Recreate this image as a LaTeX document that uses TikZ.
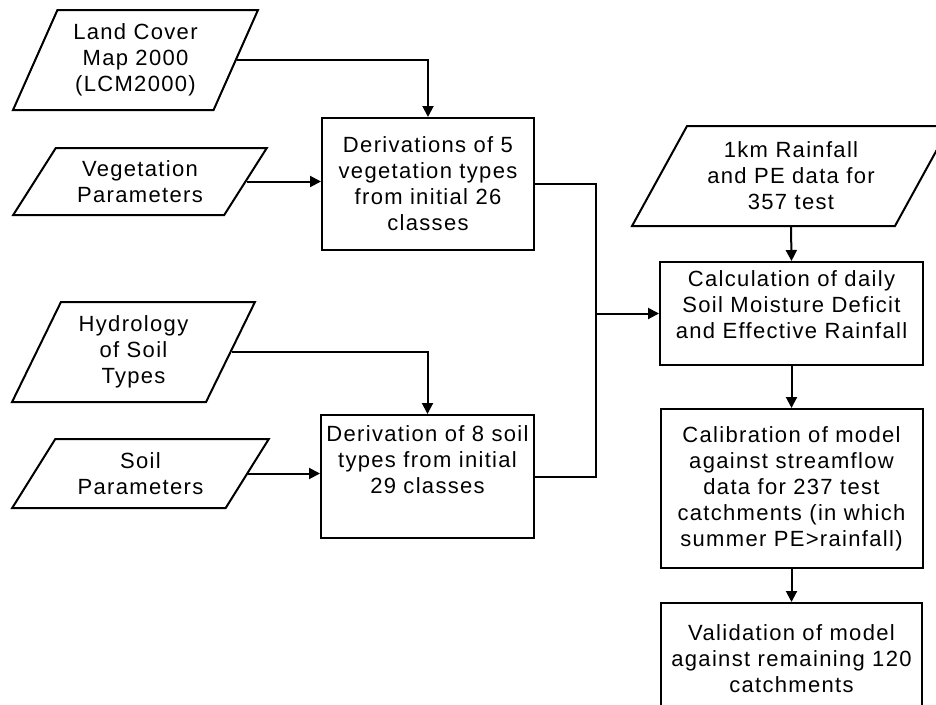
\documentclass[tikz,border=0pt]{standalone}
\usepackage{fontspec}
\setmainfont{Liberation Sans}[LetterSpace=6]
\usetikzlibrary{shapes.geometric,arrows.meta}

\tikzset{
  procbox/.style={draw,line width=2pt,align=center,inner sep=0pt},
  inputbox/.style={draw,line width=2pt,align=center,inner sep=0pt,
    trapezium,trapezium stretches=true},
  flow/.style={line width=2pt,-{Triangle[length=11pt,width=11pt]}}
}

\begin{document}
\begin{tikzpicture}[x=1pt,y=-1pt,font=\fontsize{22}{26}\selectfont]

\useasboundingbox[fill=white] (0,0) rectangle (936,704);

% inputs on the left
\node[inputbox,trapezium left angle=64,trapezium right angle=116,
  minimum width=245,minimum height=100] (lcm) at (135.5,60)
  {Land Cover\\Map 2000\\(LCM2000)};
\node[inputbox,trapezium left angle=53,trapezium right angle=127,
  minimum width=254,minimum height=67] (vegpar) at (140,181.5)
  {Vegetation\\Parameters};
\node[inputbox,trapezium left angle=63,trapezium right angle=117,
  minimum width=243,minimum height=100] (hydro) at (133.5,352)
  {Hydrology\\of Soil\\Types};
\node[inputbox,trapezium left angle=53,trapezium right angle=127,
  minimum width=257,minimum height=69] (soilpar) at (140.5,473.5)
  {Soil\\Parameters};

% derivation boxes
\node[procbox,minimum width=212,minimum height=132] (vegbox) at (428,184)
  {Derivations of 5\\vegetation types\\from initial 26\\classes};
\node[procbox,minimum width=213,minimum height=123] (soilbox) at (427.5,476.5)
  {Derivation of 8 soil\\types from initial\\29 classes\\[7pt]};

% right column
\node[inputbox,trapezium left angle=57,trapezium right angle=123,
  minimum width=318,minimum height=100] (rain) at (791,176)
  {1km Rainfall\\and PE data for\\357 test};
\node[procbox,minimum width=263,minimum height=103] (calcbox) at (791.5,313.5)
  {Calculation of daily\\Soil Moisture Deficit\\and Effective Rainfall\\[-9pt]};
\node[procbox,minimum width=262,minimum height=159] (calibbox) at (791.5,488.5)
  {Calibration of model\\against streamflow\\data for 237 test\\catchments (in which\\summer PE>rainfall)};
\node[procbox,minimum width=261,minimum height=112] (validbox) at (791.5,659)
  {Validation of model\\against remaining 120\\catchments};

\coordinate (join) at (596,313.5);

% connectors
\draw[flow] (lcm.east) -| (vegbox.north);
\draw[flow] (vegpar.east) -- (vegpar.east -| vegbox.west);
\draw[flow] (hydro.east) -| (soilbox.north);
\draw[flow] (soilpar.east) -- (soilpar.east -| soilbox.west);
\draw[line width=2pt] (vegbox.east) -| (join) |- (soilbox.east);
\draw[flow] (join) -- (calcbox.west);
\draw[flow] (rain.south) -- (calcbox.north);
\draw[flow] (calcbox.south) -- (calibbox.north);
\draw[flow] (calibbox.south) -- (validbox.north);

\end{tikzpicture}
\end{document}
